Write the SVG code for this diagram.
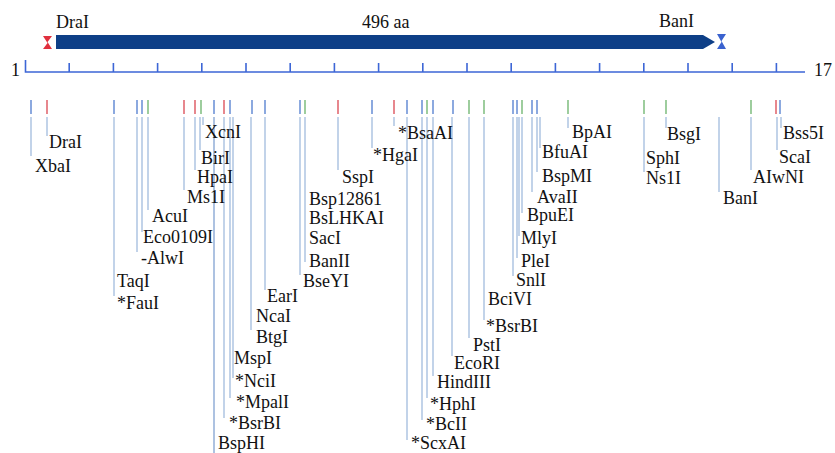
<svg xmlns="http://www.w3.org/2000/svg" width="835" height="453" viewBox="0 0 835 453">
<style>
text{font-family:"Liberation Serif","Times New Roman",serif;fill:#111}
.lb{font-size:18px}
.top{font-size:18px}
.ax{stroke:#3d66d6;stroke-width:1.6;fill:none}
.t{stroke-width:1.6}
.r{stroke:#e26a72}
.b{stroke:#7094d8}
.g{stroke:#86c186}
.ld{stroke:#b8cce6;stroke-width:1.7}
</style>
<rect width="835" height="453" fill="#fff"/>
<g id="protein">
<polygon points="56,35 703,35 715,42 703,49 56,49" fill="#0e3f87"/>
<polygon points="43,36 52,36 47.5,42 52,49 43,49 47.5,43" fill="#e0303e"/>
<polygon points="717,34 726,34 721.5,41 726,49 717,49 721.5,42" fill="#3a62cf"/>
<text class="top" x="56" y="28">DraI</text>
<text class="top" x="362" y="28">496  aa</text>
<text class="top" x="659" y="27">BanI</text>
</g>
<g id="axis">
<path class="ax" d="M25.5,60 V72 H805 M69.2,63V72 M113.4,63V72 M157.6,63V72 M201.8,63V72 M246,63V72 M290.2,63V72 M334.4,63V72 M378.6,63V72 M422.8,63V72 M467,63V72 M511.2,63V72 M555.4,63V72 M599.6,63V72 M643.8,63V72 M688,63V72 M732.2,63V72 M776.4,63V72"/>
<text x="11" y="76" font-size="18">1</text>
<text x="814" y="76" font-size="18">17</text>
</g>
<g id="sites" class="t">
<path class="b" d="M31,100V114 M114,100V114 M137,100V114 M142,100V114 M214,100V114 M230,100V114 M252,100V114 M265,100V114 M300,100V114 M372,100V114 M407,100V114 M422,100V114 M433,100V114 M453,100V114 M513,100V114 M517,100V114 M532,100V114 M537,100V114 M780,100V114"/>
<path class="r" d="M47,100V114 M184,100V114 M195,100V114 M224,100V114 M338,100V114 M394,100V114 M776,100V114"/>
<path class="g" d="M148,100V114 M201,100V114 M305,100V114 M427,100V114 M469,100V114 M484,100V114 M522,100V114 M568,100V114 M644,100V114 M666,100V114 M751,100V114"/>
</g>
<g id="connectors" class="ld">
<path d="M31,117V156 M47,117V136 M114,117V296 M137,117V252 M142,117V232 M148,117V210 M184,117V190 M195,117V170 M200,117V150 M203,117V125 M224,117V418 M230,117V398 M233,117V378 M251,117V330 M265,117V290 M300,117V275 M305,117V262 M338,117V170 M372,117V148 M394,117V126 M407,117V440 M422,117V420 M427,117V398 M433,117V376 M452,117V356 M469,117V338 M484,117V320 M513,117V276 M517,117V258 M519,117V236 M522,117V213 M532,117V192 M537,117V172 M540,117V148 M568,117V128 M644,117V172 M666,117V128 M719,117V192 M751,117V170 M777,117V150 M781,117V128"/>
<path d="M214,117V453" stroke="#9fb8dc"/>
</g>
<g id="n-DraI"><text class="lb" x="49" y="148">DraI</text></g>
<g id="n-XbaI"><text class="lb" x="35" y="172">XbaI</text></g>
<g id="n-XcnI"><text class="lb" x="205" y="138">XcnI</text></g>
<g id="n-BirI"><text class="lb" x="201" y="164">BirI</text></g>
<g id="n-HpaI"><text class="lb" x="197" y="183">HpaI</text></g>
<g id="n-Ms1I"><text class="lb" x="187" y="203">Ms1I</text></g>
<g id="n-AcuI"><text class="lb" x="152" y="222">AcuI</text></g>
<g id="n-Eco0109I"><text class="lb" x="143" y="243">Eco0109I</text></g>
<g id="n-AlwI"><text class="lb" x="141" y="264">-AlwI</text></g>
<g id="n-TaqI"><text class="lb" x="117" y="287">TaqI</text></g>
<g id="n-FauI"><text class="lb" x="117" y="309">*FauI</text></g>
<g id="n-EarI"><text class="lb" x="267" y="302">EarI</text></g>
<g id="n-NcaI"><text class="lb" x="256" y="322">NcaI</text></g>
<g id="n-BtgI"><text class="lb" x="256" y="343">BtgI</text></g>
<g id="n-MspI"><text class="lb" x="234" y="364">MspI</text></g>
<g id="n-NciI"><text class="lb" x="235" y="387">*NciI</text></g>
<g id="n-MpalI"><text class="lb" x="236" y="408">*MpalI</text></g>
<g id="n-BsrBI-1"><text class="lb" x="229" y="429">*BsrBI</text></g>
<g id="n-BspHI"><text class="lb" x="218" y="449">BspHI</text></g>
<g id="n-BsaAI"><text class="lb" x="398" y="139">*BsaAI</text></g>
<g id="n-HgaI"><text class="lb" x="373" y="161">*HgaI</text></g>
<g id="n-SspI"><text class="lb" x="342" y="183">SspI</text></g>
<g id="n-Bsp12861"><text class="lb" x="309" y="205">Bsp12861</text></g>
<g id="n-BsLHKAI"><text class="lb" x="309" y="224">BsLHKAI</text></g>
<g id="n-SacI"><text class="lb" x="309" y="244">SacI</text></g>
<g id="n-BanII"><text class="lb" x="309" y="267">BanII</text></g>
<g id="n-BseYI"><text class="lb" x="303" y="287">BseYI</text></g>
<g id="n-ScxAI"><text class="lb" x="411" y="449">*ScxAI</text></g>
<g id="n-BcII"><text class="lb" x="426" y="430">*BcII</text></g>
<g id="n-HphI"><text class="lb" x="430" y="410">*HphI</text></g>
<g id="n-HindIII"><text class="lb" x="437" y="388">HindIII</text></g>
<g id="n-EcoRI"><text class="lb" x="454" y="369">EcoRI</text></g>
<g id="n-PstI"><text class="lb" x="473" y="351">PstI</text></g>
<g id="n-BsrBI-2"><text class="lb" x="486" y="332">*BsrBI</text></g>
<g id="n-BciVI"><text class="lb" x="488" y="305">BciVI</text></g>
<g id="n-SnlI"><text class="lb" x="516" y="286">SnlI</text></g>
<g id="n-PleI"><text class="lb" x="521" y="267">PleI</text></g>
<g id="n-MlyI"><text class="lb" x="521" y="244">MlyI</text></g>
<g id="n-BpuEI"><text class="lb" x="527" y="221">BpuEI</text></g>
<g id="n-AvaII"><text class="lb" x="537" y="203">AvaII</text></g>
<g id="n-BspMI"><text class="lb" x="542" y="182">BspMI</text></g>
<g id="n-BfuAI"><text class="lb" x="542" y="158">BfuAI</text></g>
<g id="n-BpAI"><text class="lb" x="572" y="138">BpAI</text></g>
<g id="n-BsgI"><text class="lb" x="667" y="140">BsgI</text></g>
<g id="n-SphI"><text class="lb" x="646" y="164">SphI</text></g>
<g id="n-Ns1I"><text class="lb" x="646" y="184">Ns1I</text></g>
<g id="n-BanI"><text class="lb" x="723" y="204">BanI</text></g>
<g id="n-AIwNI"><text class="lb" x="753" y="183">AIwNI</text></g>
<g id="n-ScaI"><text class="lb" x="779" y="163">ScaI</text></g>
<g id="n-Bss5I"><text class="lb" x="783" y="139">Bss5I</text></g>
</svg>
